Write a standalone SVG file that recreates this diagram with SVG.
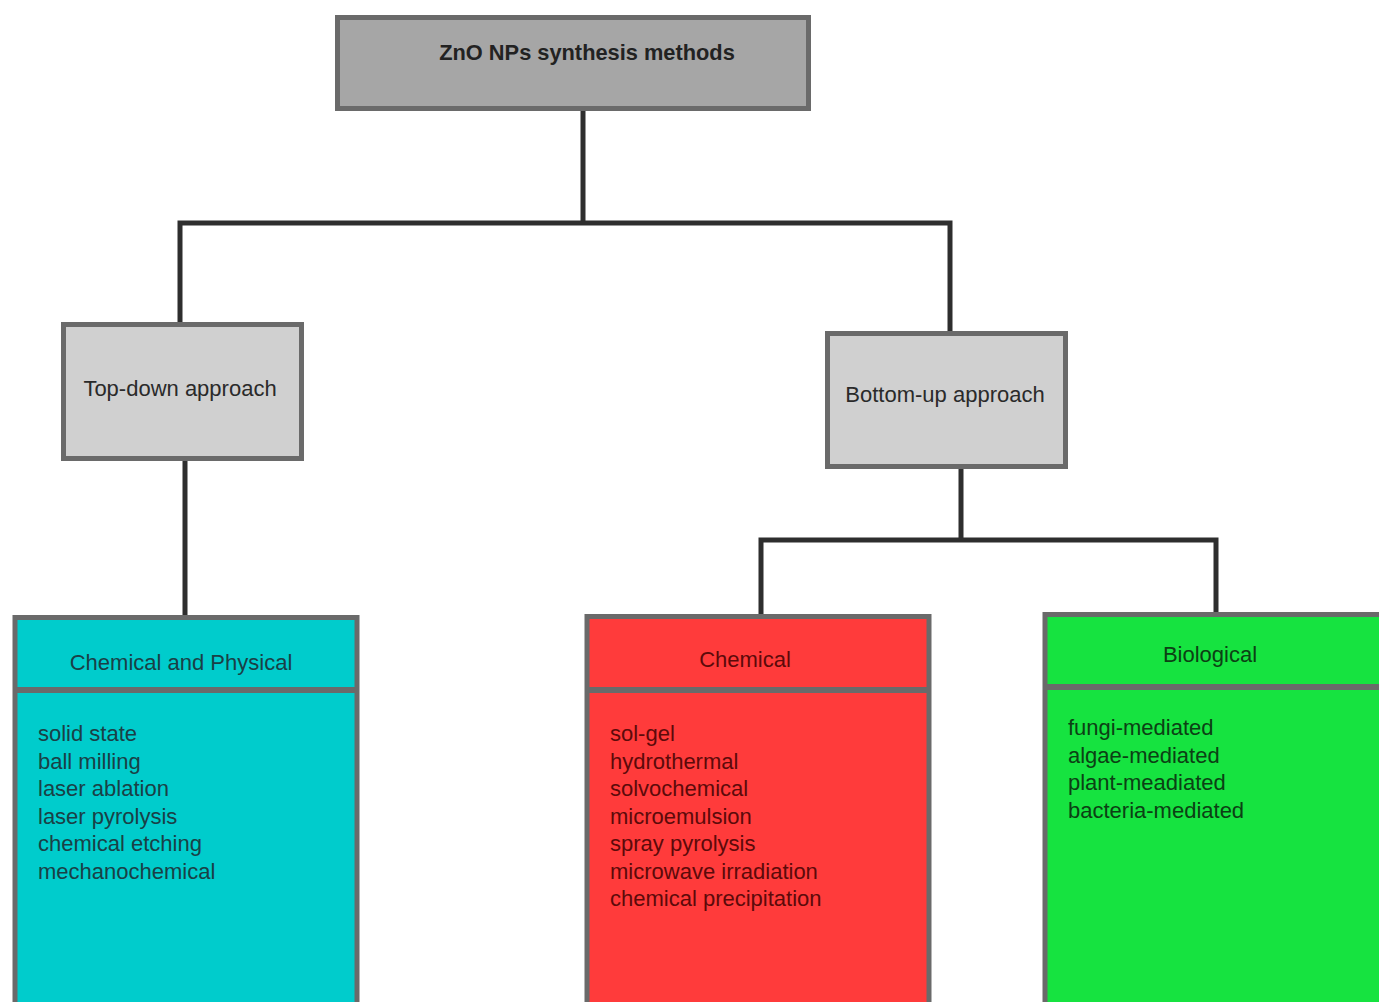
<svg xmlns="http://www.w3.org/2000/svg" width="1379" height="1002" viewBox="0 0 1379 1002">
<style>
text{font-family:"Liberation Sans",Arial,sans-serif}
.box{stroke:#6a6a6a;stroke-width:5}
.conn{fill:none;stroke:#2e2e2e;stroke-width:5;stroke-linejoin:miter}
.div{stroke:#6a6a6a;stroke-width:6}
.t{font-size:22px;text-anchor:middle}
.l{font-size:22px}
</style>
<rect width="1379" height="1002" fill="#ffffff"/>
<g id="connectors">
<path class="conn" d="M583 111 V223 M180 322 V223 H950 V331"/>
<path class="conn" d="M185 461 V615"/>
<path class="conn" d="M961 469 V540 M761 614 V540 H1216 V612"/>
</g>
<g id="root">
<rect class="box" x="337.5" y="17.5" width="471" height="91" fill="#a6a6a6"/>
<text x="587" y="60" font-size="21.8" font-weight="bold" text-anchor="middle" fill="#222">ZnO NPs synthesis methods</text>
</g>
<g id="topdown">
<rect class="box" x="63.5" y="324.5" width="238" height="134" fill="#d0d0d0"/>
<text class="t" x="180" y="396" fill="#2a2a2a">Top-down approach</text>
</g>
<g id="bottomup">
<rect class="box" x="827.5" y="333.5" width="238" height="133" fill="#d0d0d0"/>
<text class="t" x="945" y="402" fill="#2a2a2a">Bottom-up approach</text>
</g>
<g id="chemphys">
<rect class="box" x="15" y="617.5" width="342" height="400" fill="#00cccc"/>
<line class="div" x1="15" y1="690" x2="357" y2="690"/>
<text class="t" x="181" y="670" fill="#1a4046">Chemical and Physical</text>
<g fill="#1a4046">
<text class="l" x="38" y="741">solid state</text>
<text class="l" x="38" y="768.5">ball milling</text>
<text class="l" x="38" y="796">laser ablation</text>
<text class="l" x="38" y="823.5">laser pyrolysis</text>
<text class="l" x="38" y="851">chemical etching</text>
<text class="l" x="38" y="878.5">mechanochemical</text>
</g>
</g>
<g id="chemical">
<rect class="box" x="587" y="616.5" width="342" height="400" fill="#ff3b3b"/>
<line class="div" x1="587" y1="690" x2="929" y2="690"/>
<text class="t" x="745" y="667" fill="#5c0a0a">Chemical</text>
<g fill="#5c0a0a">
<text class="l" x="610" y="741">sol-gel</text>
<text class="l" x="610" y="768.5">hydrothermal</text>
<text class="l" x="610" y="796">solvochemical</text>
<text class="l" x="610" y="823.5">microemulsion</text>
<text class="l" x="610" y="851">spray pyrolysis</text>
<text class="l" x="610" y="878.5">microwave irradiation</text>
<text class="l" x="610" y="906">chemical precipitation</text>
</g>
</g>
<g id="biological">
<rect class="box" x="1045" y="614.5" width="350" height="400" fill="#16e340"/>
<line class="div" x1="1045" y1="687" x2="1395" y2="687"/>
<text class="t" x="1210" y="662" fill="#0c4014">Biological</text>
<g fill="#0c4014">
<text class="l" x="1068" y="735">fungi-mediated</text>
<text class="l" x="1068" y="762.5">algae-mediated</text>
<text class="l" x="1068" y="790">plant-meadiated</text>
<text class="l" x="1068" y="817.5">bacteria-mediated</text>
</g>
</g>
</svg>
